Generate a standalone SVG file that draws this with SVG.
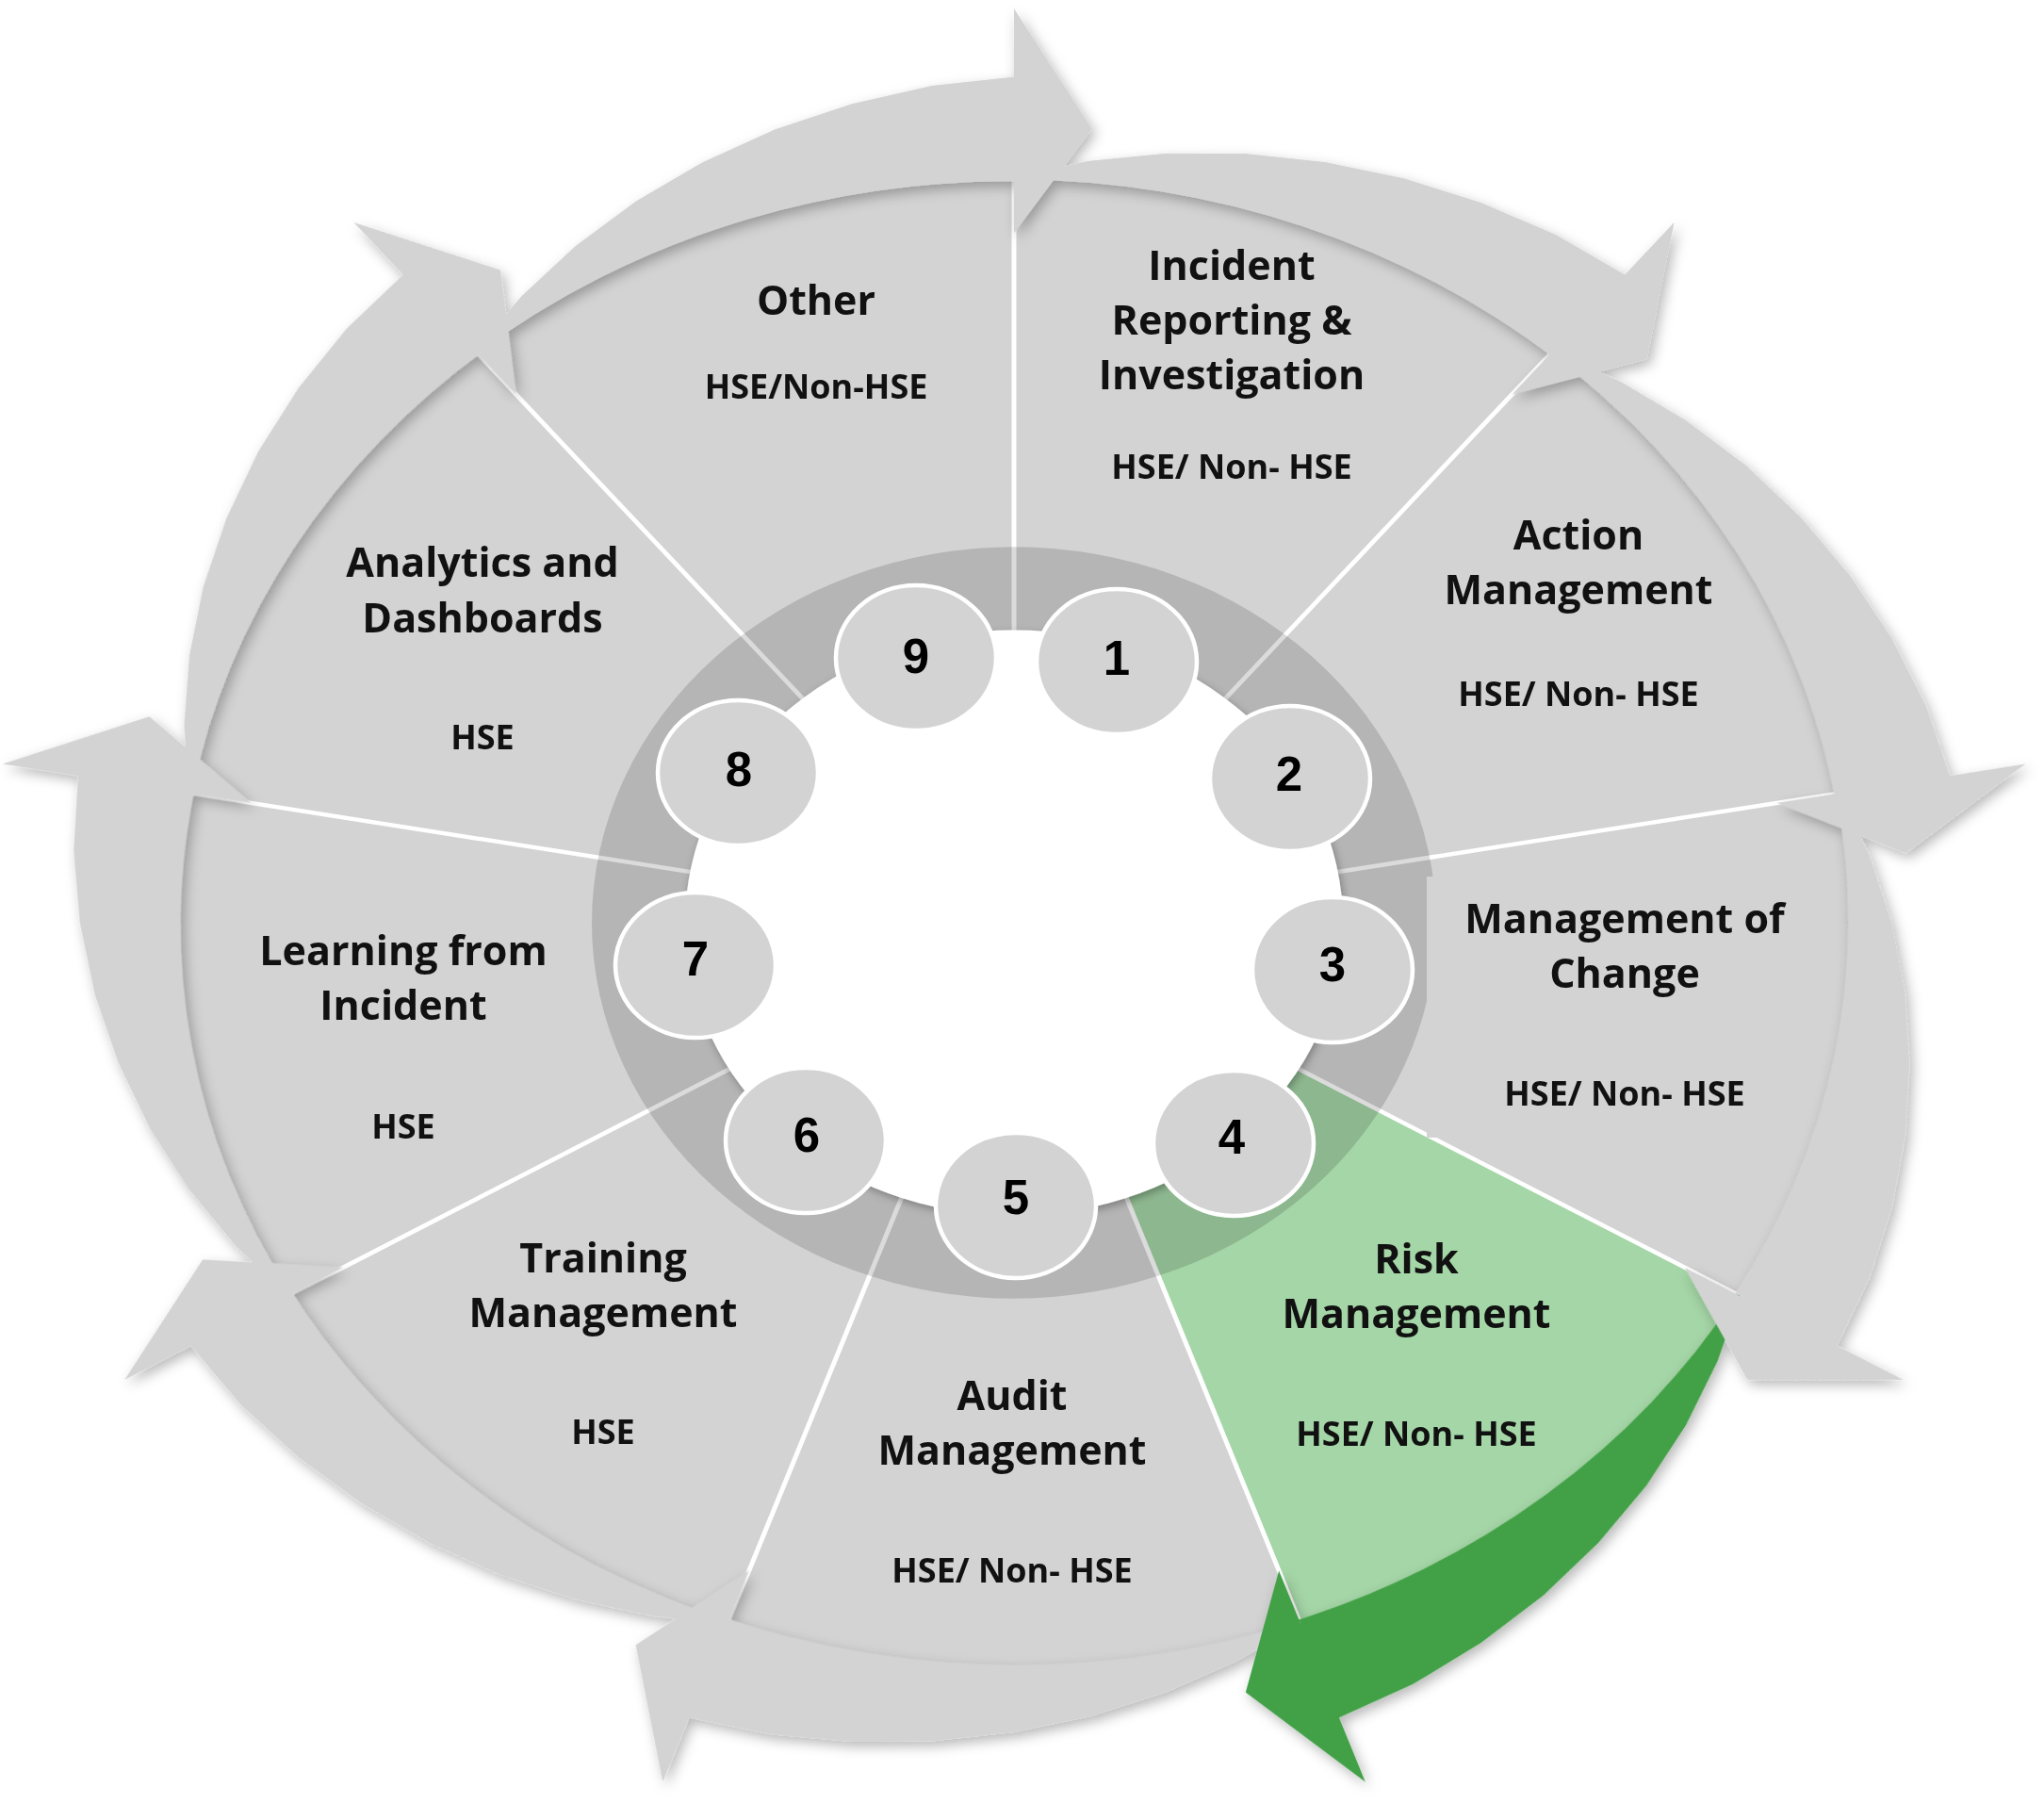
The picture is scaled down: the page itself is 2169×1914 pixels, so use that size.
<svg xmlns="http://www.w3.org/2000/svg" xmlns:xlink="http://www.w3.org/1999/xlink" width="2169" height="1914" viewBox="0 0 2169 1914">
<defs>
<style>
.body{fill:#d3d3d3}
.bodyg{fill:#a5d6a7}
.band{fill:#d3d3d3}
.bandg{fill:#43a047}
.sep{stroke:#ffffff;stroke-width:5}
.num{fill:#d3d3d3;stroke:#ffffff;stroke-width:4.5}
.t{font-family:"Open Sans","Liberation Sans",sans-serif;font-weight:700;font-size:43px;fill:#111;text-anchor:middle}
.s{font-size:36px}
.n{font-family:"Liberation Sans",Arial,sans-serif;font-weight:700;font-size:51px;fill:#000;text-anchor:middle}
</style>
<filter id="sh" x="-10%" y="-10%" width="120%" height="120%">
<feDropShadow dx="4" dy="6" stdDeviation="7" flood-color="#000" flood-opacity="0.28"/>
</filter>
<filter id="shw" x="-10%" y="-10%" width="120%" height="120%">
<feDropShadow dx="2" dy="4" stdDeviation="5" flood-color="#000" flood-opacity="0.3"/>
</filter>
<path id="bodyShape" d="M0,0 L0,-890 A890,890 0 0 1 572.1,-681.8 Z"/>
<path id="bandShape" d="M0,-886 L0,-890 L79.46,-908.1 L161.71,-917.1 L245.65,-916.8 L330.05,-906.8 L413.79,-887.4 L495.6,-858.5 L574.5,-820.5 L658.6,-765.7 L576.5,-670.2 A884,884 0 0 0 0,-886 Z"/>
<path id="headShape" d="M528.4,-629.7 L700.6,-835 L671.7,-671.7 Z"/>
<line id="sepShape" x1="0" y1="0" x2="0" y2="-890"/>
</defs>
<rect width="2169" height="1914" fill="#ffffff"/>
<g id="wheel" transform="translate(1076,979) scale(1,0.89)">
  <g id="sectors">
    <use id="seg1-body" xlink:href="#bodyShape" class="body" transform="rotate(0)"/>
    <use id="seg2-body" xlink:href="#bodyShape" class="body" transform="rotate(40)"/>
    <use id="seg3-body" xlink:href="#bodyShape" class="body" transform="rotate(80)"/>
    <use id="seg4-body" xlink:href="#bodyShape" class="bodyg" transform="rotate(120)"/>
    <use id="seg5-body" xlink:href="#bodyShape" class="body" transform="rotate(160)"/>
    <use id="seg6-body" xlink:href="#bodyShape" class="body" transform="rotate(200)"/>
    <use id="seg7-body" xlink:href="#bodyShape" class="body" transform="rotate(240)"/>
    <use id="seg8-body" xlink:href="#bodyShape" class="body" transform="rotate(280)"/>
    <use id="seg9-body" xlink:href="#bodyShape" class="body" transform="rotate(320)"/>
  </g>
  <g id="separators" class="sep">
    <use xlink:href="#sepShape" transform="rotate(0)"/>
    <use xlink:href="#sepShape" transform="rotate(40)"/>
    <use xlink:href="#sepShape" transform="rotate(80)"/>
    <use xlink:href="#sepShape" transform="rotate(120)"/>
    <use xlink:href="#sepShape" transform="rotate(160)"/>
    <use xlink:href="#sepShape" transform="rotate(200)"/>
    <use xlink:href="#sepShape" transform="rotate(240)"/>
    <use xlink:href="#sepShape" transform="rotate(280)"/>
    <use xlink:href="#sepShape" transform="rotate(320)"/>
  </g>
  <g id="connectors" filter="url(#sh)">
    <g id="arrow-bands">
      <use id="band1" xlink:href="#bandShape" class="band" transform="rotate(0)"/>
      <use id="band2" xlink:href="#bandShape" class="band" transform="rotate(40)"/>
      <use id="band3" xlink:href="#bandShape" class="band" transform="rotate(80)"/>
      <use id="band4" xlink:href="#bandShape" class="bandg" transform="rotate(120)"/>
      <use id="band5" xlink:href="#bandShape" class="band" transform="rotate(160)"/>
      <use id="band6" xlink:href="#bandShape" class="band" transform="rotate(200)"/>
      <use id="band7" xlink:href="#bandShape" class="band" transform="rotate(240)"/>
      <use id="band8" xlink:href="#bandShape" class="band" transform="rotate(280)"/>
      <use id="band9" xlink:href="#bandShape" class="band" transform="rotate(320)"/>
    </g>
    <g id="arrow-heads">
      <use id="head1" xlink:href="#headShape" class="band" transform="rotate(0)"/>
      <use id="head2" xlink:href="#headShape" class="band" transform="rotate(40)"/>
      <use id="head3" xlink:href="#headShape" class="band" transform="rotate(80)"/>
      <use id="head4" xlink:href="#headShape" class="bandg" transform="rotate(120)"/>
      <use id="head5" xlink:href="#headShape" class="band" transform="rotate(160)"/>
      <use id="head6" xlink:href="#headShape" class="band" transform="rotate(200)"/>
      <use id="head7" xlink:href="#headShape" class="band" transform="rotate(240)"/>
      <use id="head8" xlink:href="#headShape" class="band" transform="rotate(280)"/>
      <use id="head9" xlink:href="#headShape" class="band" transform="rotate(320)"/>
    </g>
  </g>
  <circle id="ring" r="448" fill="#000" fill-opacity="0.14"/>
  <circle id="hub" r="349" fill="#ffffff" filter="url(#shw)"/>
</g>
<rect id="textbox3" x="1514" y="930" width="360" height="277" fill="#d3d3d3"/>
<g id="node1">
  <ellipse class="num" cx="1185" cy="702" rx="85" ry="77"/>
  <text class="n" x="1185" y="716">1</text>
  <text class="t" x="1307" y="297">Incident</text>
  <text class="t" x="1307" y="355">Reporting &amp;</text>
  <text class="t" x="1307" y="413">Investigation</text>
  <text class="t s" x="1307" y="508">HSE/ Non- HSE</text>
</g>
<g id="node2">
  <ellipse class="num" cx="1369" cy="826" rx="85" ry="77"/>
  <text class="n" x="1368" y="839">2</text>
  <text class="t" x="1675" y="583">Action</text>
  <text class="t" x="1675" y="641">Management</text>
  <text class="t s" x="1675" y="749">HSE/ Non- HSE</text>
</g>
<g id="node3">
  <ellipse class="num" cx="1414" cy="1029" rx="85" ry="77"/>
  <text class="n" x="1414" y="1041">3</text>
  <text class="t" x="1724" y="990">Management of</text>
  <text class="t" x="1724" y="1048">Change</text>
  <text class="t s" x="1724" y="1173">HSE/ Non- HSE</text>
</g>
<g id="node4">
  <ellipse class="num" cx="1309" cy="1213" rx="85" ry="77"/>
  <text class="n" x="1307" y="1224">4</text>
  <text class="t" x="1503" y="1351">Risk</text>
  <text class="t" x="1503" y="1409">Management</text>
  <text class="t s" x="1503" y="1534">HSE/ Non- HSE</text>
</g>
<g id="node5">
  <ellipse class="num" cx="1078" cy="1279" rx="85" ry="77"/>
  <text class="n" x="1078" y="1288">5</text>
  <text class="t" x="1074" y="1496">Audit</text>
  <text class="t" x="1074" y="1554">Management</text>
  <text class="t s" x="1074" y="1679">HSE/ Non- HSE</text>
</g>
<g id="node6">
  <ellipse class="num" cx="855" cy="1210" rx="85" ry="77"/>
  <text class="n" x="856" y="1222">6</text>
  <text class="t" x="640" y="1350">Training</text>
  <text class="t" x="640" y="1408">Management</text>
  <text class="t s" x="640" y="1532">HSE</text>
</g>
<g id="node7">
  <ellipse class="num" cx="738" cy="1024" rx="85" ry="77"/>
  <text class="n" x="738" y="1035">7</text>
  <text class="t" x="428" y="1024">Learning from</text>
  <text class="t" x="428" y="1082">Incident</text>
  <text class="t s" x="428" y="1208">HSE</text>
</g>
<g id="node8">
  <ellipse class="num" cx="783" cy="820" rx="85" ry="77"/>
  <text class="n" x="784" y="834">8</text>
  <text class="t" x="512" y="612">Analytics and</text>
  <text class="t" x="512" y="671">Dashboards</text>
  <text class="t s" x="512" y="795">HSE</text>
</g>
<g id="node9">
  <ellipse class="num" cx="972" cy="698" rx="85" ry="77"/>
  <text class="n" x="972" y="714">9</text>
  <text class="t" x="866" y="334">Other</text>
  <text class="t s" x="866" y="423">HSE/Non-HSE</text>
</g>
</svg>
